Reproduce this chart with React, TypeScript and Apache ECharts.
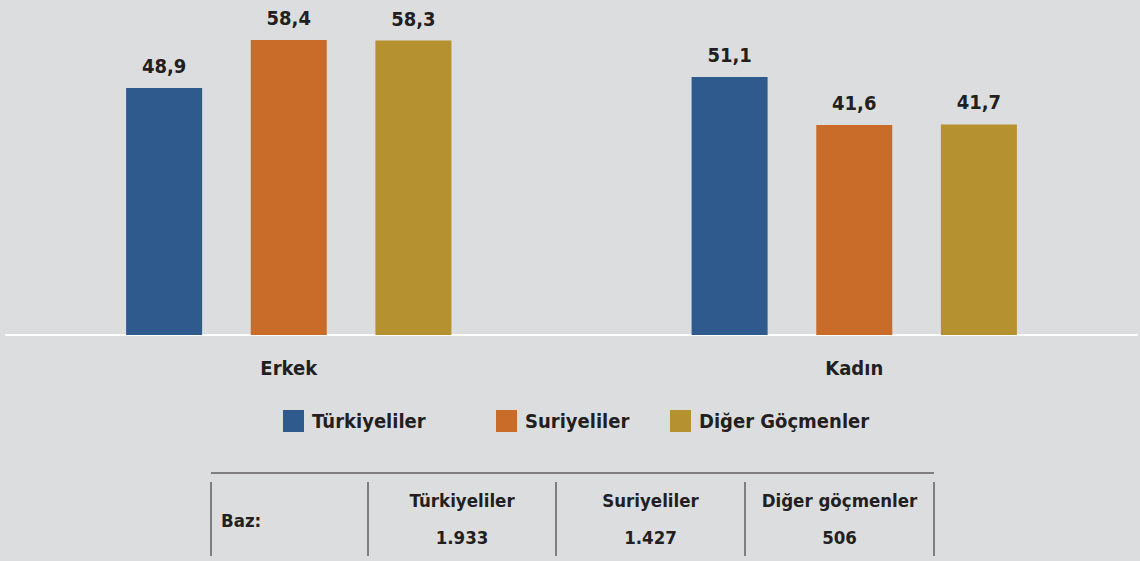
import React, { useEffect, useRef } from "react";
import * as echarts from "echarts";

const categories = ["Erkek", "Kadın"];
const seriesNames = ["Türkiyeliler", "Suriyeliler", "Diğer Göçmenler"];
const turkiyeliler = [48.9, 51.1];
const suriyeliler = [58.4, 41.6];
const digerGocmenler = [58.3, 41.7];
const baseLabel = "Baz:";
const baseGroups = ["Türkiyeliler", "Suriyeliler", "Diğer göçmenler"];
const baseValues = ["1.933", "1.427", "506"];

const colors = ["#2e5a8e", "#c96c2a", "#b6912f"];
const FONT = "'DejaVu Sans Condensed', 'Liberation Sans Narrow', sans-serif";
const TXT = "#231f20";

export default function App() {
  const ref = useRef<HTMLDivElement>(null);
  useEffect(() => {
    document.body.style.margin = "0";
    const chart = echarts.init(ref.current!, null, { renderer: "svg" });
    const values = [turkiyeliler, suriyeliler, digerGocmenler];
    const legendLeft = [278, 491, 665];
    const colX = [211, 368, 556, 745, 934];
    const graphic: any[] = [];
    graphic.push({
      type: "line",
      shape: { x1: colX[0], y1: 473, x2: colX[4], y2: 473 },
      style: { stroke: TXT, lineWidth: 1 },
    });
    colX.forEach((x) => {
      graphic.push({
        type: "line",
        shape: { x1: x, y1: 482, x2: x, y2: 556 },
        style: { stroke: TXT, lineWidth: 1 },
      });
    });
    graphic.push({
      type: "text",
      x: 221,
      y: 520,
      style: { text: baseLabel, font: `bold 18.5px ${FONT}`, fill: TXT, textVerticalAlign: "middle" },
    });
    baseGroups.forEach((g, i) => {
      const cx = (colX[i + 1] + colX[i + 2]) / 2;
      graphic.push({
        type: "text",
        x: cx,
        y: 500,
        style: { text: g, font: `bold 18.5px ${FONT}`, fill: TXT, textAlign: "center", textVerticalAlign: "middle" },
      });
      graphic.push({
        type: "text",
        x: cx,
        y: 537,
        style: { text: baseValues[i], font: `bold 18.5px ${FONT}`, fill: TXT, textAlign: "center", textVerticalAlign: "middle" },
      });
    });

    chart.setOption({
      animation: false,
      backgroundColor: "#dcdddf",
      grid: { left: 6, right: 3, top: 32, bottom: 226 },
      legend: seriesNames.map((n, i) => ({
        data: [n],
        left: legendLeft[i],
        top: 405,
        itemWidth: 21,
        itemHeight: 22,
        icon: "rect",
        itemGap: 10,
        textStyle: { fontFamily: FONT, fontWeight: "bold", fontSize: 20, color: TXT, padding: [0, 0, 0, 3] },
        selectedMode: false,
      })),
      xAxis: {
        type: "category",
        data: categories,
        axisLine: { lineStyle: { color: "#ffffff", width: 2 } },
        axisTick: { show: false },
        axisLabel: { margin: 23, fontFamily: FONT, fontWeight: "bold", fontSize: 20, color: TXT },
      },
      yAxis: {
        type: "value",
        min: 0,
        max: 60,
        show: false,
        splitLine: { show: false },
      },
      graphic,
      series: seriesNames.map((n, i) => ({
        name: n,
        type: "bar",
        data: values[i],
        barWidth: 76,
        barGap: "64%",
        itemStyle: { color: colors[i] },
        label: {
          show: true,
          position: "top",
          distance: 12,
          fontFamily: FONT,
          fontWeight: "bold",
          fontSize: 20,
          color: TXT,
          formatter: (p: any) => String(p.value.toFixed(1)).replace(".", ","),
        },
      })),
    });
    return () => chart.dispose();
  }, []);
  return <div ref={ref} style={{ position: "fixed", left: 0, top: 0, width: 1140, height: 561 }} />;
}
